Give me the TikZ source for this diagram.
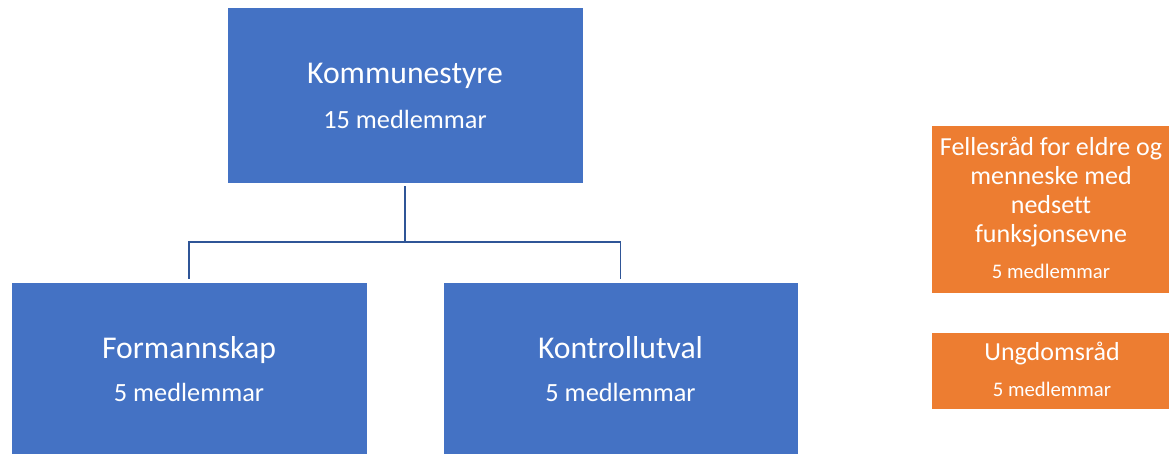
\documentclass[tikz,border=0pt]{standalone}
\usepackage{fontspec}
\setmainfont[Ligatures=NoCommon]{Carlito}
\definecolor{accblue}{HTML}{4472C4}
\definecolor{accorange}{HTML}{ED7D31}
\definecolor{connblue}{HTML}{2F5597}
\begin{document}
\begin{tikzpicture}[x=1pt,y=-1pt,
  bluebox/.style={fill=accblue, draw=white, line width=0.8pt, inner sep=0pt},
  orangebox/.style={fill=accorange, draw=white, line width=0.8pt, inner sep=0pt},
  lbl/.style={text=white, inner sep=0pt, anchor=base},
  bigtitle/.style={lbl, font=\fontsize{31.7}{38}\selectfont},
  bigsub/.style={lbl, font=\fontsize{26.3}{32}\selectfont},
  smalltitle/.style={lbl, font=\fontsize{26}{29}\selectfont},
  smallsub/.style={lbl, font=\fontsize{20.7}{25}\selectfont},
  conn/.style={draw=connblue, line width=1.8pt, shorten <=3pt, shorten >=3pt}]
\useasboundingbox (0,0) rectangle (1169,454);
\clip (0,0) rectangle (1169,454);

% boxes
\node[bluebox, minimum width=356, minimum height=176] (k) at (405,95) {};
\node[bluebox, minimum width=356, minimum height=198] (f) at (189,381) {};
\node[bluebox, minimum width=355, minimum height=198] (c) at (620.5,381) {};
\node[orangebox, minimum width=240, minimum height=168] (e) at (1051,209) {};
\node[orangebox, minimum width=240, minimum height=77] (u) at (1051.5,370.5) {};

% texts
\node[bigtitle] (kt) at (405,84) {Kommunestyre};
\node[bigsub] (km) at (405,128.3) {15 medlemmar};
\node[bigtitle] (ft) at (189,358) {Formannskap};
\node[bigsub] (fm) at (189,401.7) {5 medlemmar};
\node[bigtitle] (ct) at (620.5,358) {Kontrollutval};
\node[bigsub] (cm) at (620.5,401.7) {5 medlemmar};

\node[smalltitle] (e1) at (1051,155.7) {Fellesråd for eldre og};
\node[smalltitle] (e2) at (1051,184.7) {menneske med};
\node[smalltitle] (e3) at (1051,213.7) {nedsett};
\node[smalltitle] (e4) at (1051,242.7) {funksjonsevne};
\node[smallsub] (em) at (1051,278.3) {5 medlemmar};

\node[smalltitle] (ut) at (1052,360) {Ungdomsråd};
\node[smallsub] (um) at (1052,396.7) {5 medlemmar};

% connectors
\coordinate (j) at (405,242);
\draw[conn, shorten >=0pt] (k.south) -- (j);
\draw[conn] (f.north) |- (j) -| (c.north);
\end{tikzpicture}
\end{document}
